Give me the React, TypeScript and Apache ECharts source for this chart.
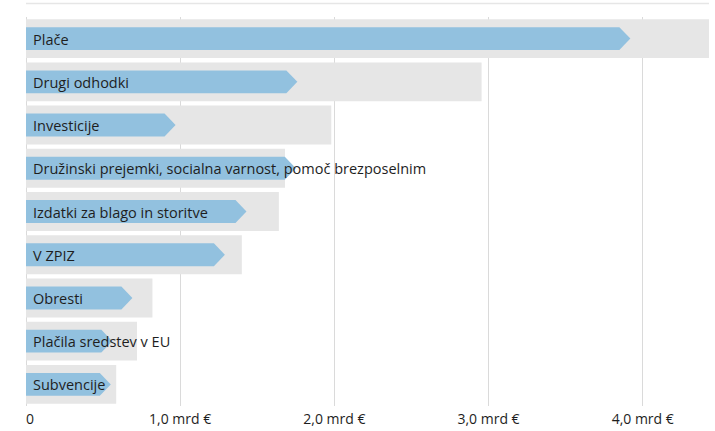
import React, { useEffect, useRef } from "react";
import * as echarts from "echarts";

const categories = [
  "Plače",
  "Drugi odhodki",
  "Investicije",
  "Družinski prejemki, socialna varnost, pomoč brezposelnim",
  "Izdatki za blago in storitve",
  "V ZPIZ",
  "Obresti",
  "Plačila sredstev v EU",
  "Subvencije",
];
const planned = [4.43, 2.955, 1.98, 1.68, 1.64, 1.4, 0.82, 0.72, 0.585];
const realized = [3.92, 1.76, 0.97, 1.75, 1.43, 1.29, 0.69, 0.56, 0.55];
const tickValues = [0, 1, 2, 3, 4];
const tickLabels = ["0", "1,0 mrd €", "2,0 mrd €", "3,0 mrd €", "4,0 mrd €"];

const FONT = "'Open Sans', 'Noto Sans', sans-serif";

export default function App() {
  const ref = useRef<HTMLDivElement>(null);
  useEffect(() => {
    if (!ref.current) return;
    const chart = echarts.init(ref.current, null, { renderer: "svg" });
    chart.setOption({
      animation: false,
      grid: { left: 26, right: 6, top: 17, bottom: 25, containLabel: false },
      graphic: [
        {
          type: "line",
          shape: { x1: 26, y1: 3.5, x2: 709, y2: 3.5 },
          style: { stroke: "#e6e6e6", lineWidth: 1.5 },
          silent: true,
        },
      ],
      xAxis: {
        type: "value",
        min: 0,
        max: 4.43,
        interval: 1,
        axisLine: { show: false },
        axisTick: { show: false },
        splitLine: { show: true, showMaxLine: false, lineStyle: { color: "#dadada", width: 1 } },
        axisLabel: {
          color: "#1e1e1e",
          fontSize: 14,
          fontFamily: FONT,
          margin: 5,
          alignMinLabel: "left",
          showMaxLabel: false,
          formatter: (v: number) => {
            const i = tickValues.indexOf(v);
            return i >= 0 ? tickLabels[i] : "";
          },
        },
      },
      yAxis: {
        type: "category",
        data: categories,
        inverse: true,
        axisLine: { show: false },
        axisTick: { show: false },
        axisLabel: { show: false },
        splitLine: { show: false },
      },
      series: [
        {
          type: "bar",
          data: planned,
          barWidth: "90%",
          itemStyle: { color: "#e6e6e6" },
          silent: true,
          z: 2,
        },
        {
          type: "custom",
          z: 3,
          silent: true,
          data: realized.map((v, i) => [v, i]),
          encode: { x: 0, y: 1 },
          renderItem: (params: any, api: any) => {
            const val = api.value(0);
            const idx = api.value(1);
            const start = api.coord([0, idx]);
            const end = api.coord([val, idx]);
            const band = api.size([0, 1])[1];
            const h = band * 0.53;
            const head = 11;
            const y = start[1];
            return {
              type: "group",
              children: [
                {
                  type: "polygon",
                  shape: {
                    points: [
                      [start[0], y - h / 2],
                      [end[0] - head, y - h / 2],
                      [end[0], y],
                      [end[0] - head, y + h / 2],
                      [start[0], y + h / 2],
                    ],
                  },
                  style: { fill: "#92c1df" },
                },
                {
                  type: "text",
                  style: {
                    text: categories[idx],
                    x: start[0] + 7,
                    y: y + 0.5,
                    verticalAlign: "middle",
                    align: "left",
                    fill: "#1e1e1e",
                    fontSize: 14.5,
                    fontFamily: FONT,
                  },
                },
              ],
            };
          },
        },
      ],
    });
    return () => chart.dispose();
  }, []);
  return (
    <div
      ref={ref}
      style={{ position: "fixed", left: 0, top: 0, width: 715, height: 431, background: "#fff" }}
    />
  );
}
